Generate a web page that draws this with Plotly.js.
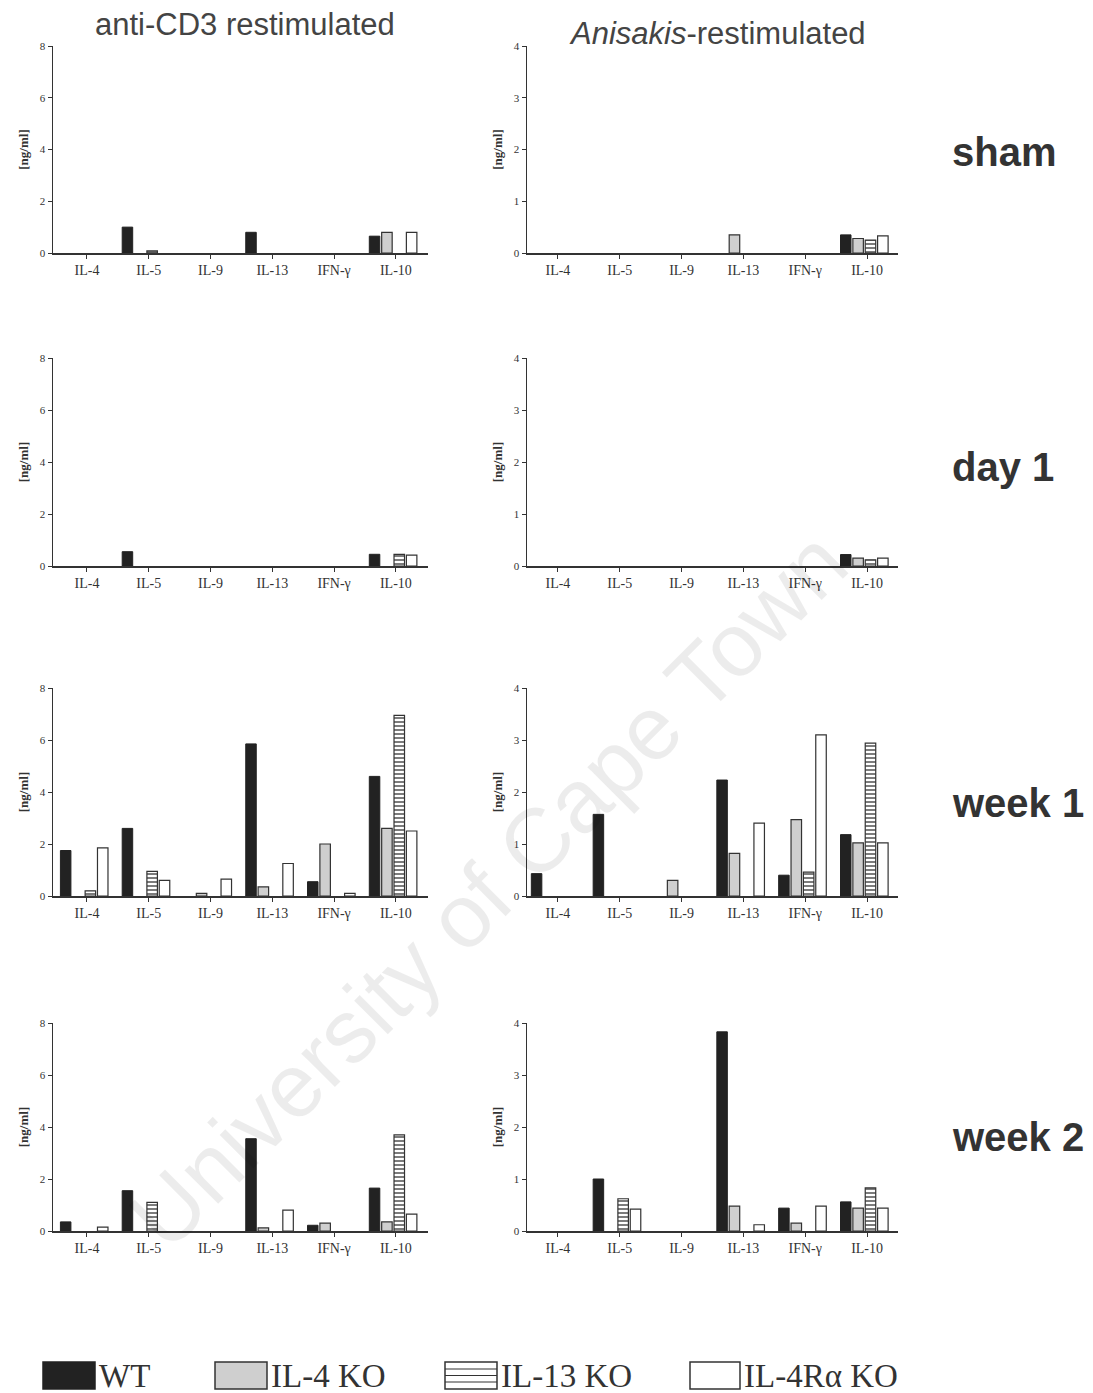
<!DOCTYPE html>
<html>
<head>
<meta charset="utf-8">
<script src="https://cdn.plot.ly/plotly-3.0.1.min.js"></script>
<style>html,body{margin:0;padding:0;background:#fff;}#chart{width:1093px;height:1393px;}</style>
</head>
<body>
<div id="chart"></div>
<script>
// ---------- DATA ----------
const categories = ['IL-4', 'IL-5', 'IL-9', 'IL-13', 'IFN-γ', 'IL-10'];
const seriesNames = ['WT', 'IL-4 KO', 'IL-13 KO', 'IL-4Rα KO'];
const rowLabels = ['sham', 'day 1', 'week 1', 'week 2'];
const colTitles = ['anti-CD3 restimulated', '<i>Anisakis</i>-restimulated'];
const yMaxAntiCD3 = 8;
const yMaxAnisakis = 4;

// sham
const sham_CD3_WT      = [0, 1.0, 0, 0.8, 0, 0.65];
const sham_CD3_IL4KO   = [0, 0, 0, 0, 0, 0.8];
const sham_CD3_IL13KO  = [0, 0.08, 0, 0, 0, 0];
const sham_CD3_IL4RaKO = [0, 0, 0, 0, 0, 0.8];
const sham_Ani_WT      = [0, 0, 0, 0, 0, 0.35];
const sham_Ani_IL4KO   = [0, 0, 0, 0.35, 0, 0.28];
const sham_Ani_IL13KO  = [0, 0, 0, 0, 0, 0.25];
const sham_Ani_IL4RaKO = [0, 0, 0, 0, 0, 0.33];
// day 1
const day1_CD3_WT      = [0, 0.55, 0, 0, 0, 0.45];
const day1_CD3_IL4KO   = [0, 0, 0, 0, 0, 0];
const day1_CD3_IL13KO  = [0, 0, 0, 0, 0, 0.45];
const day1_CD3_IL4RaKO = [0, 0, 0, 0, 0, 0.42];
const day1_Ani_WT      = [0, 0, 0, 0, 0, 0.22];
const day1_Ani_IL4KO   = [0, 0, 0, 0, 0, 0.15];
const day1_Ani_IL13KO  = [0, 0, 0, 0, 0, 0.12];
const day1_Ani_IL4RaKO = [0, 0, 0, 0, 0, 0.15];
// week 1
const week1_CD3_WT      = [1.75, 2.6, 0, 5.85, 0.55, 4.6];
const week1_CD3_IL4KO   = [0, 0, 0.1, 0.35, 2.0, 2.6];
const week1_CD3_IL13KO  = [0.2, 0.95, 0, 0, 0, 6.95];
const week1_CD3_IL4RaKO = [1.85, 0.6, 0.65, 1.25, 0.1, 2.5];
const week1_Ani_WT      = [0.43, 1.57, 0, 2.23, 0.4, 1.18];
const week1_Ani_IL4KO   = [0, 0, 0.3, 0.82, 1.47, 1.02];
const week1_Ani_IL13KO  = [0, 0, 0, 0, 0.46, 2.94];
const week1_Ani_IL4RaKO = [0, 0, 0, 1.4, 3.1, 1.02];
// week 2
const week2_CD3_WT      = [0.35, 1.55, 0, 3.55, 0.22, 1.65];
const week2_CD3_IL4KO   = [0, 0, 0, 0.12, 0.3, 0.35];
const week2_CD3_IL13KO  = [0, 1.1, 0, 0, 0, 3.7];
const week2_CD3_IL4RaKO = [0.15, 0, 0, 0.8, 0, 0.65];
const week2_Ani_WT      = [0, 1.0, 0, 3.83, 0.44, 0.56];
const week2_Ani_IL4KO   = [0, 0, 0, 0.48, 0.15, 0.44];
const week2_Ani_IL13KO  = [0, 0.62, 0, 0, 0, 0.83];
const week2_Ani_IL4RaKO = [0, 0.42, 0, 0.12, 0.48, 0.44];

// ---------- BUILD ----------
const W = 1093, H = 1393;
const px = x => x / W;
const py = y => 1 - y / H;

const panels = [
  [sham_CD3_WT, sham_CD3_IL4KO, sham_CD3_IL13KO, sham_CD3_IL4RaKO],
  [sham_Ani_WT, sham_Ani_IL4KO, sham_Ani_IL13KO, sham_Ani_IL4RaKO],
  [day1_CD3_WT, day1_CD3_IL4KO, day1_CD3_IL13KO, day1_CD3_IL4RaKO],
  [day1_Ani_WT, day1_Ani_IL4KO, day1_Ani_IL13KO, day1_Ani_IL4RaKO],
  [week1_CD3_WT, week1_CD3_IL4KO, week1_CD3_IL13KO, week1_CD3_IL4RaKO],
  [week1_Ani_WT, week1_Ani_IL4KO, week1_Ani_IL13KO, week1_Ani_IL4RaKO],
  [week2_CD3_WT, week2_CD3_IL4KO, week2_CD3_IL13KO, week2_CD3_IL4RaKO],
  [week2_Ani_WT, week2_Ani_IL4KO, week2_Ani_IL13KO, week2_Ani_IL4RaKO]
];

const ink = '#333';
const styles = [
  {color: '#222', line: {color: '#222', width: 1}},
  {color: '#cfcfcf', line: {color: ink, width: 1.2}},
  {color: '#fff', line: {color: ink, width: 1.2}, pattern: {shape: '-', fgcolor: '#444', bgcolor: '#fff', size: 4, solidity: 0.35}},
  {color: '#fff', line: {color: ink, width: 1.2}}
];
const barOffsets = [-0.43, -0.23, -0.03, 0.17];
const barWidth = 0.17;

// pixel geometry of each panel's plot area
const colX = [[53, 428], [527, 898]];
const colRange = [[-0.55, 5.52], [-0.5, 5.5]];
const rowY = [[46, 253], [358, 566], [688, 896], [1023, 1231]];

const data = [];
const layout = {
  width: W, height: H,
  margin: {l: 0, r: 0, t: 0, b: 0},
  paper_bgcolor: '#fff', plot_bgcolor: '#fff',
  showlegend: false,
  barmode: 'overlay',
  font: {family: 'Liberation Serif, serif', color: ink},
  annotations: [], shapes: []
};

panels.forEach((series, i) => {
  const row = Math.floor(i / 2), col = i % 2;
  const n = i + 1;
  const xa = 'x' + (n === 1 ? '' : n), ya = 'y' + (n === 1 ? '' : n);
  const ymax = col === 0 ? yMaxAntiCD3 : yMaxAnisakis;
  series.forEach((vals, s) => {
    data.push({
      type: 'bar', x: categories, y: vals.map(v => (v === 0 ? null : v)), name: seriesNames[s],
      xaxis: xa, yaxis: ya, marker: styles[s], offset: barOffsets[s], width: barWidth,
      opacity: 1, hoverinfo: 'x+y+name'
    });
  });
  layout['xaxis' + (n === 1 ? '' : n)] = {
    domain: [px(colX[col][0]), px(colX[col][1])], anchor: ya,
    type: 'category', range: colRange[col],
    showline: true, linecolor: ink, linewidth: 1.5,
    ticks: 'outside', ticklen: 4, tickwidth: 1, tickcolor: ink,
    tickfont: {family: 'Liberation Serif, serif', size: 14, color: ink},
    showgrid: false, zeroline: false, fixedrange: true
  };
  layout['yaxis' + (n === 1 ? '' : n)] = {
    domain: [py(rowY[row][1]), py(rowY[row][0])], anchor: xa,
    range: [0, ymax], dtick: ymax / 4,
    showline: true, linecolor: ink, linewidth: 1.5,
    ticks: 'outside', ticklen: 4, tickwidth: 1, tickcolor: ink,
    tickfont: {family: 'Liberation Serif, serif', size: 11, color: ink},
    showgrid: false, zeroline: false, fixedrange: true,
    title: {text: '[ng/ml]', standoff: 8,
            font: {family: 'Liberation Serif, serif', size: 13, color: ink, weight: 'bold'}}
  };
});

// column titles
layout.annotations.push(
  {text: colTitles[0], xref: 'paper', yref: 'paper', x: px(245), y: py(25),
   xanchor: 'center', yanchor: 'middle', showarrow: false,
   font: {family: 'Liberation Sans, Arial, sans-serif', size: 31, color: '#444'}},
  {text: colTitles[1], xref: 'paper', yref: 'paper', x: px(717), y: py(33),
   xanchor: 'center', yanchor: 'middle', showarrow: false,
   font: {family: 'Liberation Sans, Arial, sans-serif', size: 31, color: '#444'}}
);
// row labels
const rowLabelY = [152, 467, 803, 1137];
rowLabels.forEach((t, r) => layout.annotations.push({
  text: '<b>' + t + '</b>', xref: 'paper', yref: 'paper', x: px(950), y: py(rowLabelY[r]),
  xanchor: 'left', yanchor: 'middle', showarrow: false,
  font: {family: 'Liberation Sans, Arial, sans-serif', size: 40, color: ink}
}));

// watermark
layout.annotations.push({
  text: 'University of Cape Town', xref: 'paper', yref: 'paper', x: px(488), y: py(890),
  xanchor: 'center', yanchor: 'middle', showarrow: false, textangle: -45,
  font: {family: 'Liberation Sans, Arial, sans-serif', size: 90, color: 'rgba(0,0,0,0.075)'}
});

// legend (manual, large swatches)
const legBoxes = [[43, 95], [215, 267], [445, 497], [690, 740]];
const legY0 = 1362, legY1 = 1389;
legBoxes.forEach((b, s) => {
  const fill = s === 0 ? '#222' : (s === 1 ? '#cfcfcf' : '#fff');
  layout.shapes.push({type: 'rect', xref: 'paper', yref: 'paper',
    x0: px(b[0]), x1: px(b[1]), y0: py(legY1), y1: py(legY0),
    fillcolor: fill, line: {color: s === 0 ? '#222' : ink, width: 1.5}});
  if (s === 2) {
    [1369, 1375.5, 1382].forEach(yy => layout.shapes.push({type: 'line', xref: 'paper', yref: 'paper',
      x0: px(b[0]), x1: px(b[1]), y0: py(yy), y1: py(yy), line: {color: ink, width: 1.2}}));
  }
  layout.annotations.push({text: seriesNames[s], xref: 'paper', yref: 'paper',
    x: px(b[1] + 2), y: py(1376), xanchor: 'left', yanchor: 'middle', showarrow: false,
    font: {family: 'Liberation Serif, serif', size: 33, color: ink}});
});

Plotly.newPlot('chart', data, layout, {staticPlot: true, displayModeBar: false});
</script>
</body>
</html>
